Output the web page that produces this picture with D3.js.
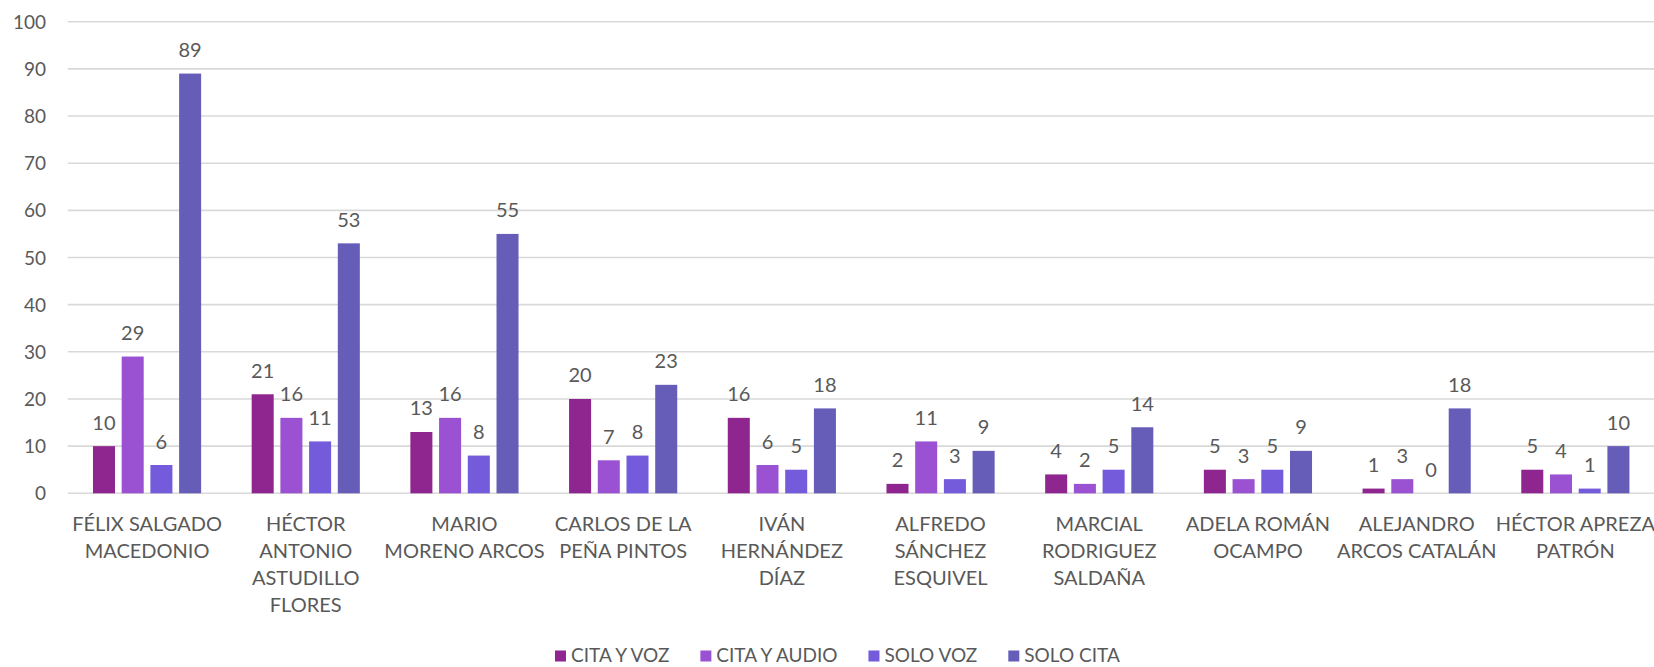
<!DOCTYPE html>
<html>
<head>
<meta charset="utf-8">
<script src="https://cdn.jsdelivr.net/npm/d3@7"></script>
<style>
  html, body { margin: 0; padding: 0; background: #ffffff; }
  svg { display: block; }
  text { font-family: Lato, "Liberation Sans", Arial, sans-serif; fill: #595959; }
</style>
</head>
<body>
<svg id="chart" width="1654" height="667"></svg>
<script>
// Candidates (one group of bars each)
const categories = [
  "FÉLIX SALGADO MACEDONIO",
  "HÉCTOR ANTONIO ASTUDILLO FLORES",
  "MARIO MORENO ARCOS",
  "CARLOS DE LA PEÑA PINTOS",
  "IVÁN HERNÁNDEZ DÍAZ",
  "ALFREDO SÁNCHEZ ESQUIVEL",
  "MARCIAL RODRIGUEZ SALDAÑA",
  "ADELA ROMÁN OCAMPO",
  "ALEJANDRO ARCOS CATALÁN",
  "HÉCTOR APREZA PATRÓN"
];

// Wrapped category labels, one entry per line
const categoryLines = [
  ["FÉLIX SALGADO", "MACEDONIO"],
  ["HÉCTOR", "ANTONIO", "ASTUDILLO", "FLORES"],
  ["MARIO", "MORENO ARCOS"],
  ["CARLOS DE LA", "PEÑA PINTOS"],
  ["IVÁN", "HERNÁNDEZ", "DÍAZ"],
  ["ALFREDO", "SÁNCHEZ", "ESQUIVEL"],
  ["MARCIAL", "RODRIGUEZ", "SALDAÑA"],
  ["ADELA ROMÁN", "OCAMPO"],
  ["ALEJANDRO", "ARCOS CATALÁN"],
  ["HÉCTOR APREZA", "PATRÓN"]
];

const seriesNames = ["CITA Y VOZ", "CITA Y AUDIO", "SOLO VOZ", "SOLO CITA"];

const citaYVoz   = [10, 21, 13, 20, 16, 2, 4, 5, 1, 5];
const citaYAudio = [29, 16, 16, 7, 6, 11, 2, 3, 3, 4];
const soloVoz    = [6, 11, 8, 8, 5, 3, 5, 5, 0, 1];
const soloCita   = [89, 53, 55, 23, 18, 9, 14, 9, 18, 10];

const seriesValues = [citaYVoz, citaYAudio, soloVoz, soloCita];
const seriesColors = ["#8f268f", "#9b52d2", "#735bdb", "#655db8"];

const yTicks = [0, 10, 20, 30, 40, 50, 60, 70, 80, 90, 100];

const svg = d3.select("#chart");

const plot = { left: 67.7, right: 1654.7, top: 21.7, bottom: 493.3 };

const x0 = d3.scaleBand()
  .domain(categories)
  .range([plot.left, plot.right])
  .padding(0);

const x1 = d3.scaleBand()
  .domain(seriesNames)
  .range([0, x0.bandwidth()])
  .paddingInner(0.233)
  .paddingOuter(0.88);

const y = d3.scaleLinear()
  .domain([0, 100])
  .range([plot.bottom, plot.top]);

// Horizontal gridlines
svg.append("g")
  .selectAll("line")
  .data(yTicks)
  .join("line")
  .attr("x1", plot.left)
  .attr("x2", plot.right)
  .attr("y1", d => y(d))
  .attr("y2", d => y(d))
  .attr("stroke", "#d9d9d9")
  .attr("stroke-width", 1.6);

// Y axis labels
const yAxis = d3.axisLeft(y).tickValues(yTicks).tickSize(0).tickPadding(0);
const gy = svg.append("g")
  .attr("transform", `translate(${46},0)`)
  .call(yAxis);
gy.select(".domain").remove();
gy.selectAll("text")
  .attr("font-size", 19)
  .attr("fill", "#595959")
  .attr("dy", "0.35em")
  .style("font-family", 'Lato, "Liberation Sans", Arial, sans-serif');

// Bars
const groups = svg.append("g")
  .selectAll("g")
  .data(categories)
  .join("g")
  .attr("transform", d => `translate(${x0(d)},0)`);

const cells = groups.selectAll("g.cell")
  .data((d, i) => seriesNames.map((s, j) => ({ series: s, value: seriesValues[j][i], color: seriesColors[j] })))
  .join("g")
  .attr("class", "cell");

cells.append("rect")
  .attr("x", d => x1(d.series))
  .attr("width", x1.bandwidth())
  .attr("y", d => y(d.value))
  .attr("height", d => y(0) - y(d.value))
  .attr("fill", d => d.color);

// Value labels
cells.append("text")
  .attr("x", d => x1(d.series) + x1.bandwidth() / 2)
  .attr("y", d => y(d.value) - 16.5)
  .attr("text-anchor", "middle")
  .attr("font-size", 20)
  .text(d => d.value);

// Category labels (wrapped)
const gx = svg.append("g");
categories.forEach((c, i) => {
  const t = gx.append("text")
    .attr("x", x0(c) + x0.bandwidth() / 2)
    .attr("y", 530.5)
    .attr("text-anchor", "middle")
    .attr("font-size", 20);
  categoryLines[i].forEach((line, k) => {
    t.append("tspan")
      .attr("x", x0(c) + x0.bandwidth() / 2)
      .attr("dy", k === 0 ? 0 : 27)
      .text(line);
  });
});

// Legend
const legend = svg.append("g").attr("transform", "translate(555,656)");
let lx = 0;
seriesNames.forEach((s, j) => {
  legend.append("rect")
    .attr("x", lx)
    .attr("y", -5.5)
    .attr("width", 11)
    .attr("height", 11)
    .attr("fill", seriesColors[j]);
  const t = legend.append("text")
    .attr("x", lx + 16)
    .attr("y", 0)
    .attr("dy", "0.33em")
    .attr("font-size", 19)
    .text(s);
  lx += 16 + t.node().getComputedTextLength() + 31;
});
</script>
</body>
</html>
